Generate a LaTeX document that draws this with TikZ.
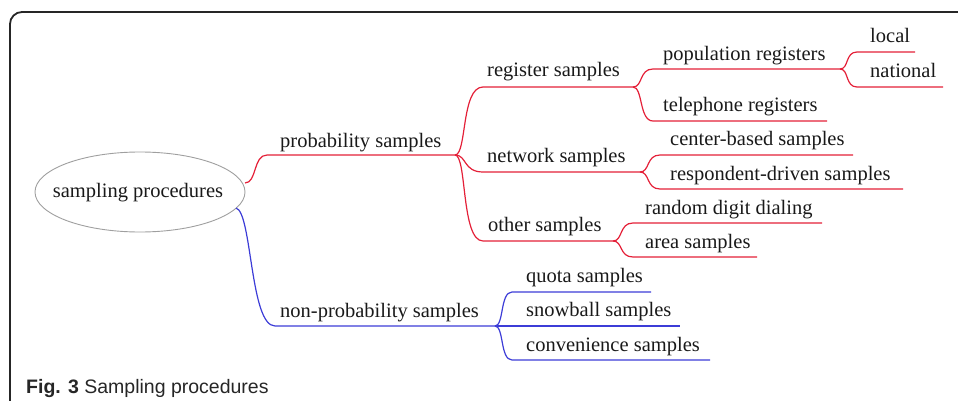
\documentclass[tikz,border=0pt]{standalone}
\usepackage{fontspec}
\setmainfont{Liberation Serif}
\newfontfamily\capfont{Liberation Sans}
\definecolor{mmred}{RGB}{228,32,56}
\definecolor{mmblue}{RGB}{60,60,215}
\begin{document}
\begin{tikzpicture}[x=1pt,y=-1pt,
  topic/.style={anchor=base west, inner sep=0pt, font=\fontsize{20.5}{24}\selectfont, text=black!90},
  rline/.style={draw=mmred, line width=1.2pt},
  bline/.style={draw=mmblue, line width=1.2pt}]
\useasboundingbox (0,0) rectangle (958,401);
% frame
\draw[line width=1.8pt, black!85, rounded corners=12pt] (960,12) -- (10,12) -- (10,403);
% root
\node[inner sep=0pt, font=\fontsize{20.5}{24}\selectfont, text=black!90] (root) at (138,193) {sampling procedures};
\draw[gray!75, line width=0.9pt] (140,192) ellipse [x radius=105pt, y radius=40pt];
\coordinate (root-r) at (245,183);
\coordinate (root-b) at (236,208);
% line coordinates
\coordinate (prob-s) at (267,155); \coordinate (prob-e) at (455,155);
\coordinate (np-s) at (275,326);   \coordinate (np-e) at (495,326);
\coordinate (reg-s) at (483,87);   \coordinate (reg-e) at (633,87);
\coordinate (net-s) at (483,172);  \coordinate (net-e) at (640,172);
\coordinate (oth-s) at (483,241);  \coordinate (oth-e) at (613,241);
\coordinate (pop-s) at (653,69);   \coordinate (pop-e) at (840,69);
\coordinate (tel-s) at (653,121);  \coordinate (tel-e) at (827,121);
\coordinate (loc-s) at (857,52);   \coordinate (loc-e) at (915,52);
\coordinate (nat-s) at (857,87);   \coordinate (nat-e) at (943,87);
\coordinate (cen-s) at (660,155);  \coordinate (cen-e) at (853,155);
\coordinate (res-s) at (660,189);  \coordinate (res-e) at (903,189);
\coordinate (ran-s) at (633,223);  \coordinate (ran-e) at (822,223);
\coordinate (are-s) at (633,257);  \coordinate (are-e) at (757,257);
\coordinate (quo-s) at (512,292);  \coordinate (quo-e) at (651,292);
\coordinate (sno-e) at (680,326);
\coordinate (con-s) at (512,360);  \coordinate (con-e) at (710,360);
% labels
\node[topic] (prob) at (280,147) {probability samples};
\node[topic] (np)   at (280,317) {non-probability samples};
\node[topic] (reg)  at (487,77)  {register samples};
\node[topic] (net)  at (487,162) {network samples};
\node[topic] (oth)  at (488,231) {other samples};
\node[topic] (pop)  at (663,61)  {population registers};
\node[topic] (tel)  at (663,112) {telephone registers};
\node[topic] (loc)  at (870,43)  {local};
\node[topic] (nat)  at (870,78)  {national};
\node[topic] (cen)  at (670,146) {center-based samples};
\node[topic] (res)  at (670,180) {respondent-driven samples};
\node[topic] (ran)  at (645,214) {random digit dialing};
\node[topic] (are)  at (645,248) {area samples};
\node[topic] (quo)  at (526,282) {quota samples};
\node[topic] (sno)  at (526,316) {snowball samples};
\node[topic] (con)  at (526,351) {convenience samples};
% red branches
\draw[rline] (root-r) .. controls +(12,0) and +(-14,0) .. (prob-s) -- (prob-e);
\draw[rline] (prob-e) .. controls +(12,0) and +(-22,0) .. (reg-s) -- (reg-e);
\draw[rline] (prob-e) .. controls +(12,0) and +(-20,0) .. (net-s) -- (net-e);
\draw[rline] (prob-e) .. controls +(12,0) and +(-22,0) .. (oth-s) -- (oth-e);
\draw[rline] (reg-e) .. controls +(10,0) and +(-14,0) .. (pop-s) -- (pop-e);
\draw[rline] (reg-e) .. controls +(10,0) and +(-14,0) .. (tel-s) -- (tel-e);
\draw[rline] (pop-e) .. controls +(9,0) and +(-12,0) .. (loc-s) -- (loc-e);
\draw[rline] (pop-e) .. controls +(9,0) and +(-12,0) .. (nat-s) -- (nat-e);
\draw[rline] (net-e) .. controls +(10,0) and +(-14,0) .. (cen-s) -- (cen-e);
\draw[rline] (net-e) .. controls +(10,0) and +(-14,0) .. (res-s) -- (res-e);
\draw[rline] (oth-e) .. controls +(10,0) and +(-14,0) .. (ran-s) -- (ran-e);
\draw[rline] (oth-e) .. controls +(10,0) and +(-14,0) .. (are-s) -- (are-e);
% blue branches
\draw[bline] (root-b) .. controls (252,212) and (250,326) .. (np-s) -- (np-e);
\draw[bline] (np-e) .. controls +(9,0) and +(-12,0) .. (quo-s) -- (quo-e);
\draw[bline] (np-e) -- (sno-e);
\draw[bline] (np-e) .. controls +(9,0) and +(-12,0) .. (con-s) -- (con-e);
% caption
\node[anchor=base west, inner sep=0pt, font=\capfont\fontsize{19.5}{22}\selectfont, text=black!85] (cap) at (26,393)
  {\textbf{Fig. 3} Sampling procedures};
\end{tikzpicture}
\end{document}
